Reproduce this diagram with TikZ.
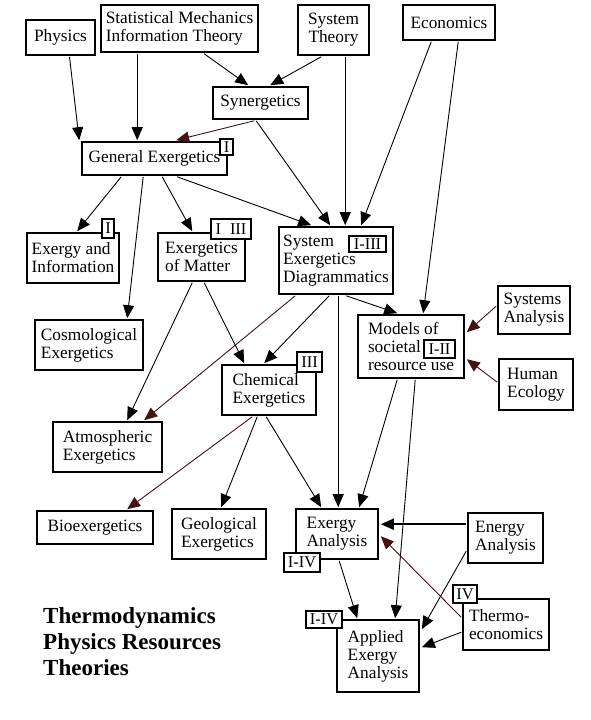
\documentclass[tikz,border=0pt]{standalone}
\usepackage{fontspec}
\setmainfont{Liberation Serif}
\usetikzlibrary{arrows.meta,calc}
\definecolor{dred}{RGB}{70,18,18}
\begin{document}
\begin{tikzpicture}[x=1pt,y=-1pt,
  box/.style={draw, line width=1.6pt, rectangle, inner sep=0pt, align=left, font=\fontsize{17.3}{18}\selectfont},
  tag/.style={draw, line width=1.3pt, fill=white, rectangle, inner sep=0pt, font=\fontsize{16.5}{18}\selectfont},
  conn/.style={line width=0.9pt, -{Triangle[length=13pt,width=11pt]}},
  reddish/.style={draw=dred},
  titletext/.style={anchor=north west, align=left, inner sep=0pt, font=\fontsize{23}{26}\selectfont\bfseries}
]
\fill[white] (0,0) rectangle (590,720);
\useasboundingbox (0,0) rectangle (590,720);

% boxes
\node[box, minimum width=69pt, minimum height=35pt] (phys) at (60.5,37.5) {Physics};
\node[box, minimum width=157pt, minimum height=47pt] (stat) at (179.5,28.5) {Statistical Mechanics\\Information Theory};
\node[box, align=center, minimum width=71pt, minimum height=50pt] (systh) at (333.5,30) {System\\Theory};
\node[box, minimum width=92pt, minimum height=35pt] (econ) at (449,22.5) {Economics};
\node[box, minimum width=95pt, minimum height=32pt] (syn) at (260.5,103) {Synergetics};
\node[box, minimum width=145pt, minimum height=33pt] (ge) at (154.5,158.5) {General Exergetics};
\node[box, minimum width=92pt, minimum height=50pt] (ei) at (73,258) {Exergy and\\Information};
\node[box, minimum width=87pt, minimum height=48pt] (em) at (201.5,257) {Exergetics\\of Matter};
\node[box, minimum width=108pt, minimum height=50pt] (cosmo) at (89,345) {Cosmological\\Exergetics};
\node[box, minimum width=114pt, minimum height=67pt] (sed) at (336,260.5) {System\\Exergetics\\Diagrammatics};
\node[box, minimum width=106pt, minimum height=63pt] (models) at (411,346.5) {Models of\\societal\\resource use};
\node[box, minimum width=72pt, minimum height=48pt] (sysan) at (534,310) {Systems\\Analysis};
\node[box, minimum width=74pt, minimum height=51pt] (human) at (536,384.5) {Human\\Ecology};
\node[box, minimum width=94pt, minimum height=50pt] (chem) at (269,390) {Chemical\\Exergetics};
\node[box, minimum width=109pt, minimum height=50pt] (atmo) at (107.5,447) {Atmospheric\\Exergetics};
\node[box, minimum width=116pt, minimum height=33pt] (bio) at (95,527.5) {Bioexergetics};
\node[box, minimum width=94pt, minimum height=50pt] (geo) at (219,534) {Geological\\Exergetics};
\node[box, minimum width=82pt, minimum height=50pt] (exan) at (337,534) {Exergy\\Analysis};
\node[box, minimum width=75pt, minimum height=50pt] (enan) at (505.5,538) {Energy\\Analysis};
\node[box, minimum width=86pt, minimum height=51pt] (thermo) at (506,624.5) {Thermo-\\economics};
\node[box, minimum width=82pt, minimum height=72pt] (appl) at (378,656) {Applied\\Exergy\\Analysis};

% tags
\node[tag, minimum width=13pt, minimum height=16pt] (tagge) at (226.5,147) {I};
\node[tag, minimum width=12pt, minimum height=19pt] (tagei) at (108,228.5) {I};
\node[tag, minimum width=40pt, minimum height=20pt] (tagem) at (231,229) {I\hspace{9pt}III};
\node[tag, minimum width=37pt, minimum height=16pt] (tagsed) at (367.5,244) {I-III};
\node[tag, minimum width=31pt, minimum height=18pt] (tagmod) at (439.5,349) {I-II};
\node[tag, minimum width=25pt, minimum height=20pt] (tagchem) at (309.5,362) {III};
\node[tag, minimum width=36pt, minimum height=19pt] (tagex) at (302,562.5) {I-IV};
\node[tag, minimum width=24pt, minimum height=18pt] (tagth) at (465,594) {IV};
\node[tag, minimum width=36pt, minimum height=17pt] (tagap) at (324,619.5) {I-IV};

% connectors
\draw[conn] ($(phys.south)+(9,1)$) -- ($(ge.north west)+(-2,-1)$);
\draw[conn] ($(stat.south west)+(37,1)$) -- ($(ge.north west)+(56,-1)$);
\draw[conn] ($(stat.south west)+(104,1)$) -- ($(syn.north west)+(36,-1)$);
\draw[conn] ($(systh.south west)+(24,1)$) -- ($(syn.north west)+(58,-1)$);
\draw[conn, reddish] ($(syn.south west)+(42,1)$) -- ($(ge.north west)+(95,-1)$);
\draw[conn] ($(syn.south west)+(44,1)$) -- ($(sed.north west)+(52,-1)$);
\draw[conn] ($(systh.south west)+(48,1)$) -- ($(sed.north west)+(67,-1)$);
\draw[conn] ($(econ.south west)+(29,1)$) -- ($(sed.north west)+(83,-1)$);
\draw[conn] ($(econ.south west)+(56,1)$) -- ($(models.north west)+(66,-1)$);
\draw[conn] ($(ge.south west)+(40,1)$) -- ($(ei.north west)+(51,-1)$);
\draw[conn] ($(ge.south west)+(62,1)$) -- ($(cosmo.north west)+(93,-1)$);
\draw[conn] ($(ge.south west)+(81,1)$) -- ($(em.north west)+(35,-1)$);
\draw[conn] ($(ge.south west)+(96,1)$) -- ($(sed.north west)+(33,-1)$);
\draw[conn] ($(em.south west)+(35,1)$) -- ($(atmo.north west)+(75,-1)$);
\draw[conn] ($(em.south west)+(47,1)$) -- ($(chem.north west)+(23,-1)$);
\draw[conn, reddish] ($(sed.south west)+(17,1)$) -- ($(atmo.north west)+(92,-1)$);
\draw[conn] ($(sed.south west)+(51,1)$) -- ($(chem.north west)+(43,-1)$);
\draw[conn] ($(sed.south west)+(68,1)$) -- ($(models.north west)+(40,-1)$);
\draw[conn] ($(sed.south west)+(60,1)$) -- ($(exan.north west)+(43,-1)$);
\draw[conn, reddish] ($(sysan.north west)+(-1,21)$) -- ($(models.north east)+(2,18)$);
\draw[conn, reddish] ($(human.north west)+(-1,24)$) -- ($(models.north east)+(2,45)$);
\draw[conn] ($(models.south west)+(40,1)$) -- ($(exan.north west)+(64,-1)$);
\draw[conn] ($(models.south west)+(58,1)$) -- ($(appl.north west)+(59,-1)$);
\draw[conn, reddish] ($(chem.south west)+(31,1)$) -- ($(bio.north west)+(91,-1)$);
\draw[conn] ($(chem.south west)+(36,1)$) -- ($(geo.north west)+(50,-1)$);
\draw[conn] ($(chem.south west)+(45,1)$) -- ($(exan.north west)+(26,-1)$);
\draw[conn, line width=1.8pt] ($(enan.north west)+(-1,12)$) -- ($(exan.north east)+(2,16)$);
\draw[conn] ($(enan.north west)+(-1,39)$) -- ($(appl.north east)+(2,10)$);
\draw[conn, reddish] ($(thermo.north west)+(-1,19)$) -- ($(exan.north east)+(2,28)$);
\draw[conn] ($(thermo.north west)+(-1,34)$) -- ($(appl.north east)+(2,28)$);
\draw[conn] ($(exan.south west)+(44,1)$) -- ($(appl.north west)+(21,-1)$);

% title
\node[titletext] (title) at (43,607.5) {Thermodynamics\\Physics Resources\\Theories};
\end{tikzpicture}
\end{document}
